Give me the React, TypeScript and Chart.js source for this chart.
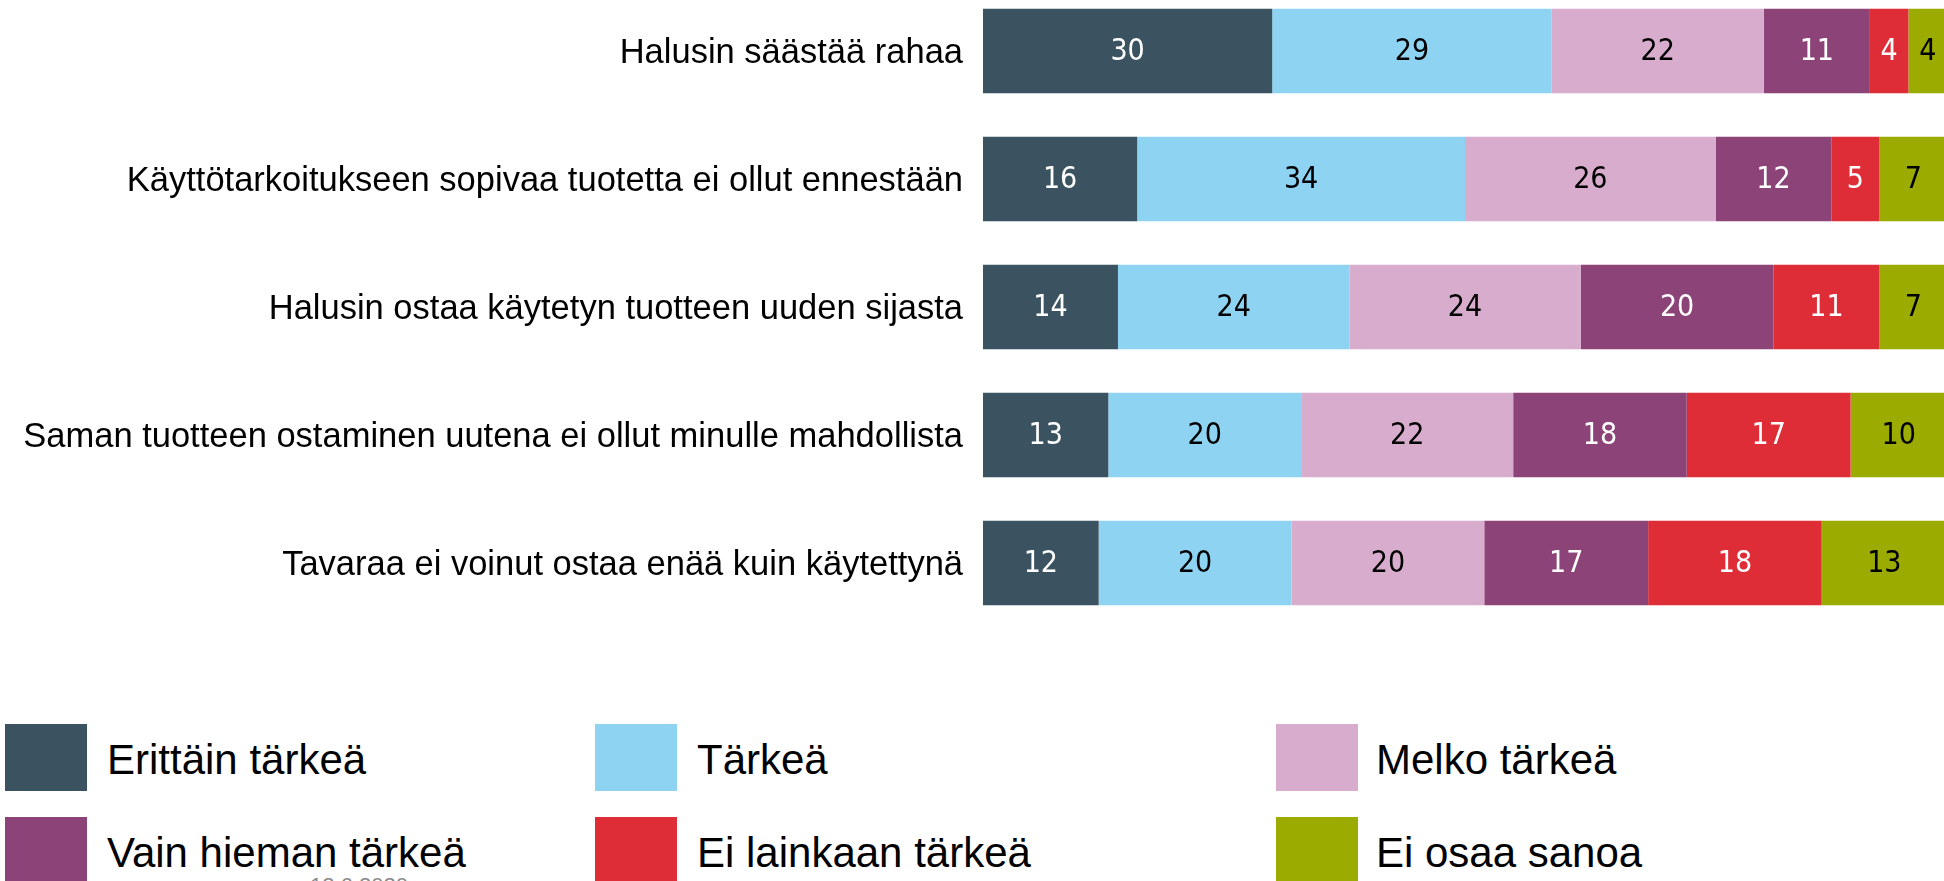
import React, { useEffect, useRef } from "react";
import { Chart, registerables } from "chart.js";

Chart.register(...registerables);

const categories = [
  "Halusin säästää rahaa",
  "Käyttötarkoitukseen sopivaa tuotetta ei ollut ennestään",
  "Halusin ostaa käytetyn tuotteen uuden sijasta",
  "Saman tuotteen ostaminen uutena ei ollut minulle mahdollista",
  "Tavaraa ei voinut ostaa enää kuin käytettynä",
];

const seriesNames = [
  "Erittäin tärkeä",
  "Tärkeä",
  "Melko tärkeä",
  "Vain hieman tärkeä",
  "Ei lainkaan tärkeä",
  "Ei osaa sanoa",
];

const erittainTarkea = [30, 16, 14, 13, 12];
const tarkea = [29, 34, 24, 20, 20];
const melkoTarkea = [22, 26, 24, 22, 20];
const vainHiemanTarkea = [11, 12, 20, 18, 17];
const eiLainkaanTarkea = [4, 5, 11, 17, 18];
const eiOsaaSanoa = [4, 7, 7, 10, 13];

const seriesValues = [
  erittainTarkea,
  tarkea,
  melkoTarkea,
  vainHiemanTarkea,
  eiLainkaanTarkea,
  eiOsaaSanoa,
];

const seriesColors = ["#3b5261", "#8fd3f2", "#d8accd", "#8c4378", "#df2d37", "#9cab00"];
const labelColors = ["#ffffff", "#000000", "#000000", "#ffffff", "#ffffff", "#000000"];

const footerText = "12.6.2020";

const valueLabelPlugin = {
  id: "valueLabels",
  afterDatasetsDraw(chart: any) {
    const ctx = chart.ctx;
    chart.data.datasets.forEach((ds: any, di: number) => {
      const meta = chart.getDatasetMeta(di);
      meta.data.forEach((el: any, i: number) => {
        const v = ds.data[i];
        const c = el.getCenterPoint();
        ctx.save();
        ctx.translate(c.x, c.y + 1);
        ctx.scale(0.9, 1);
        ctx.font = '30px "DejaVu Sans"';
        ctx.fillStyle = labelColors[di];
        ctx.textAlign = "center";
        ctx.textBaseline = "middle";
        ctx.fillText(String(v), 0, 0);
        ctx.restore();
      });
    });
  },
};

const legendPos = [
  { sx: 5, tx: 107, y: 724 },
  { sx: 595, tx: 697, y: 724 },
  { sx: 1276, tx: 1376, y: 724 },
  { sx: 5, tx: 107, y: 817 },
  { sx: 595, tx: 697, y: 817 },
  { sx: 1276, tx: 1376, y: 817 },
];

export default function App() {
  const canvasRef = useRef<HTMLCanvasElement | null>(null);

  useEffect(() => {
    const canvas = canvasRef.current;
    if (!canvas) return;
    const chart = new Chart(canvas, {
      type: "bar",
      data: {
        labels: categories,
        datasets: seriesNames.map((name, i) => ({
          label: name,
          data: seriesValues[i],
          backgroundColor: seriesColors[i],
          borderWidth: 0,
          categoryPercentage: 1,
          barPercentage: 0.66,
        })),
      },
      options: {
        indexAxis: "y",
        responsive: false,
        animation: false,
        layout: { padding: { top: 7, bottom: 0, left: 0, right: 0 } },
        plugins: {
          legend: { display: false },
          tooltip: { enabled: false },
          title: { display: false },
        },
        scales: {
          x: {
            stacked: true,
            min: 0,
            max: 100,
            display: false,
          },
          y: {
            stacked: true,
            grid: { display: false, drawTicks: false },
            border: { display: false },
            ticks: {
              padding: 20,
              labelOffset: 2,
              color: "#000000",
              font: { family: '"Liberation Sans", Arial, sans-serif', size: 34.5 },
            },
            afterFit(scale: any) {
              scale.width = 983;
              scale.paddingTop = 0;
              scale.paddingBottom = 0;
            },
          },
        },
      },
      plugins: [valueLabelPlugin],
    });
    return () => chart.destroy();
  }, []);

  return (
    <div
      style={{
        position: "fixed",
        left: 0,
        top: 0,
        width: 1944,
        height: 881,
        overflow: "hidden",
        background: "#ffffff",
        fontFamily: '"Liberation Sans", Arial, sans-serif',
      }}
    >
      <canvas
        ref={canvasRef}
        width={1947}
        height={647}
        style={{ position: "absolute", left: 0, top: -20, width: 1947, height: 647 }}
      />
      {seriesNames.map((name, i) => (
        <React.Fragment key={name}>
          <div
            style={{
              position: "absolute",
              left: legendPos[i].sx,
              top: legendPos[i].y,
              width: 82,
              height: 67,
              background: seriesColors[i],
            }}
          />
          <div
            style={{
              position: "absolute",
              left: legendPos[i].tx,
              top: legendPos[i].y + 2,
              height: 67,
              lineHeight: "67px",
              fontSize: 42,
              color: "#000000",
              whiteSpace: "nowrap",
            }}
          >
            {name}
          </div>
        </React.Fragment>
      ))}
      <div
        style={{
          position: "absolute",
          left: 310,
          top: 875,
          fontSize: 22,
          lineHeight: "22px",
          color: "#8a8a8a",
          whiteSpace: "nowrap",
        }}
      >
        {footerText}
      </div>
    </div>
  );
}
